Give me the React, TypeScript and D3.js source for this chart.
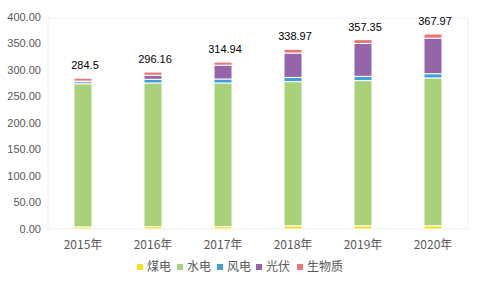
import React from "react";
import * as d3 from "d3";

const years = ["2015年", "2016年", "2017年", "2018年", "2019年", "2020年"];
const seriesNames = ["煤电", "水电", "风电", "光伏", "生物质"];
const coal = [4, 4.5, 4.5, 6, 6, 6];
const hydro = [270, 271, 271, 272, 274, 279];
const wind = [4, 7, 7.5, 8, 8, 8];
const solar = [1, 7.5, 26, 46, 62, 67];
const bio = [5.5, 6.16, 5.94, 6.97, 7.35, 7.97];
const totals = [284.5, 296.16, 314.94, 338.97, 357.35, 367.97];
const totalLabels = ["284.5", "296.16", "314.94", "338.97", "357.35", "367.97"];
const yTicks = [0, 50, 100, 150, 200, 250, 300, 350, 400];
const colors = ["#F5E11B", "#A9D179", "#419FDA", "#9465A8", "#EB7575"];

const W = 481;
const H = 296;
const plot = { left: 48, right: 468, top: 17, bottom: 229 };

export default function App() {
  const seriesData = [coal, hydro, wind, solar, bio];
  const rows = years.map((y, i) => {
    const r: any = { year: y };
    seriesNames.forEach((n, k) => (r[n] = seriesData[k][i]));
    return r;
  });
  const stacked = d3.stack<any>().keys(seriesNames)(rows);
  const x = d3.scaleBand().domain(years).range([plot.left, plot.right]).paddingInner(0).paddingOuter(0);
  const y = d3.scaleLinear().domain([0, 400]).range([plot.bottom, plot.top]);
  const barW = 18;
  const font = "'Liberation Sans', Arial, 'Noto Sans CJK SC', sans-serif";
  const cjk = "'Noto Sans CJK SC', 'Liberation Sans', sans-serif";

  const legendX = [137, 177, 217, 256, 297];
  const legendY = 267;

  return (
    <svg width={W} height={H} style={{ position: "absolute", left: 0, top: 0, background: "#fff" }}>
      <rect x={plot.left} y={plot.top + 1} width={plot.right - plot.left} height={plot.bottom - plot.top - 1} fill="none" stroke="#EFEFEF" strokeWidth={1} />
      {yTicks.map((t) => (
        <text key={t} x={41} y={y(t)} dy="0.35em" textAnchor="end" fontSize={11} fill="#595959" fontFamily={font}>
          {t.toFixed(2)}
        </text>
      ))}
      {stacked.map((s, k) => (
        <g key={s.key} fill={colors[k]}>
          {s.map((d, i) => (
            <rect
              key={i}
              x={(x(years[i]) as number) + x.bandwidth() / 2 - barW / 2}
              y={y(d[1])}
              width={barW}
              height={Math.max(0, y(d[0]) - y(d[1]))}
              stroke="#fff"
              strokeWidth={1}
            />
          ))}
        </g>
      ))}
      {totals.map((t, i) => (
        <text key={i} x={(x(years[i]) as number) + x.bandwidth() / 2 + 2} y={y(t) - 9} textAnchor="middle" fontSize={11} fill="#000" fontFamily={font}>
          {totalLabels[i]}
        </text>
      ))}
      {years.map((yr) => (
        <text key={yr} x={(x(yr) as number) + x.bandwidth() / 2} y={245} dy="0.35em" textAnchor="middle" fontSize={12} fill="#595959" fontFamily={cjk}>
          {yr}
        </text>
      ))}
      {seriesNames.map((n, k) => (
        <g key={n}>
          <rect x={legendX[k]} y={legendY - 3} width={6} height={6} fill={colors[k]} />
          <text x={legendX[k] + 10} y={legendY} dy="0.35em" fontSize={12} fill="#595959" fontFamily={cjk}>
            {n}
          </text>
        </g>
      ))}
    </svg>
  );
}
